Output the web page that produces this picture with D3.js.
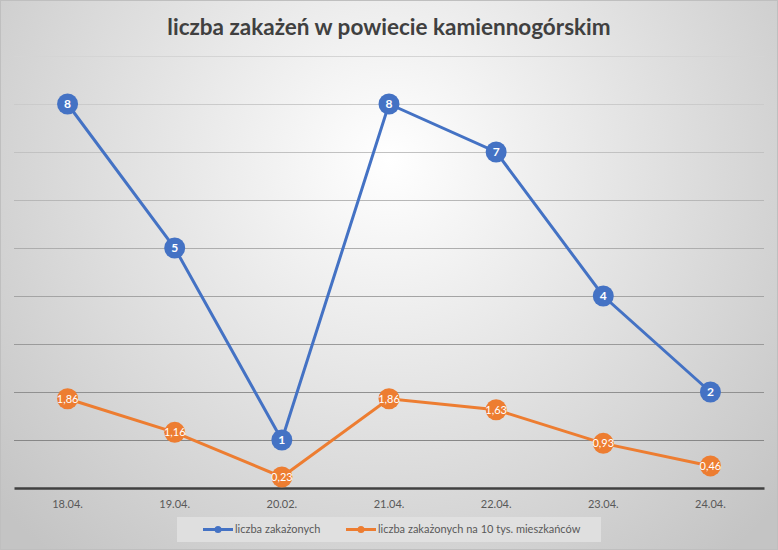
<!DOCTYPE html>
<html>
<head>
<meta charset="utf-8">
<script src="https://cdn.jsdelivr.net/npm/d3@7"></script>
<style>
  body { margin: 0; background: #fff; }
  svg { display: block; }
</style>
</head>
<body>
<div id="chart"></div>
<script>
var categories = ['18.04.', '19.04.', '20.02.', '21.04.', '22.04.', '23.04.', '24.04.'];
var infected = [8, 5, 1, 8, 7, 4, 2];
var per10k = [1.86, 1.16, 0.23, 1.86, 1.63, 0.93, 0.46];
var seriesNames = ['liczba zakażonych', 'liczba zakażonych na 10 tys. mieszkańców'];
var seriesColors = ['#4472C4', '#ED7D31'];
var yTicks = [0, 1, 2, 3, 4, 5, 6, 7, 8, 9];

var width = 778, height = 550;
var font = 'Lato, "Open Sans", sans-serif';

var svg = d3.select('#chart').append('svg')
    .attr('width', width)
    .attr('height', height);

var defs = svg.append('defs');
var bg = defs.append('radialGradient')
    .attr('id', 'bg')
    .attr('gradientUnits', 'userSpaceOnUse')
    .attr('cx', 389).attr('cy', 160).attr('r', 520);
bg.append('stop').attr('offset', '0%').attr('stop-color', '#ffffff');
bg.append('stop').attr('offset', '100%').attr('stop-color', '#c4c4c4');

// gridlines look lighter near the top
var gridGrad = defs.append('linearGradient')
    .attr('id', 'gridGrad')
    .attr('gradientUnits', 'userSpaceOnUse')
    .attr('x1', 0).attr('y1', 50).attr('x2', 0).attr('y2', 450);
gridGrad.append('stop').attr('offset', '0%').attr('stop-color', '#d6d6d6');
gridGrad.append('stop').attr('offset', '100%').attr('stop-color', '#858585');

svg.append('rect')
    .attr('x', 0.5).attr('y', 0.5)
    .attr('width', width - 1).attr('height', height - 1)
    .attr('fill', 'url(#bg)')
    .attr('stroke', '#bfbfbf');

var margin = {top: 56, right: 14, bottom: 62, left: 14};

var x = d3.scaleBand()
    .domain(categories)
    .range([margin.left, width - margin.right]);

var y = d3.scaleLinear()
    .domain([0, 9])
    .range([height - margin.bottom, margin.top]);

// title
svg.append('text')
    .attr('x', width / 2)
    .attr('y', 35)
    .attr('text-anchor', 'middle')
    .style('font-family', font)
    .style('font-weight', 'bold')
    .style('font-size', '22.5px')
    .style('fill', '#404040')
    .text('liczba zakażeń w powiecie kamiennogórskim');

// gridlines
svg.append('g')
    .selectAll('line')
    .data(yTicks.slice(1))
    .enter()
    .append('line')
    .attr('x1', margin.left)
    .attr('x2', width - margin.right)
    .attr('y1', function (d) { return Math.round(y(d)) + 0.5; })
    .attr('y2', function (d) { return Math.round(y(d)) + 0.5; })
    .attr('stroke', 'url(#gridGrad)')
    .attr('stroke-width', 1);

// x axis
var xAxis = svg.append('g')
    .attr('transform', 'translate(0,' + y(0) + ')')
    .call(d3.axisBottom(x).tickSize(0).tickPadding(12));
xAxis.select('.domain')
    .attr('stroke', '#404040')
    .attr('stroke-width', 2.5);
xAxis.selectAll('text')
    .style('font-family', font)
    .style('font-size', '11px')
    .style('fill', '#595959');

var series = [infected, per10k];

var line = d3.line()
    .x(function (d, i) { return x(categories[i]) + x.bandwidth() / 2; })
    .y(function (d) { return y(d); });

function fmt(v) {
    return String(v).replace('.', ',');
}

series.forEach(function (values, s) {
    var g = svg.append('g');
    g.append('path')
        .datum(values)
        .attr('d', line)
        .attr('fill', 'none')
        .attr('stroke', seriesColors[s])
        .attr('stroke-width', 3);

    var pts = g.selectAll('.pt')
        .data(values)
        .enter()
        .append('g')
        .attr('class', 'pt')
        .attr('transform', function (d, i) {
            return 'translate(' + (x(categories[i]) + x.bandwidth() / 2) + ',' + y(d) + ')';
        });

    pts.append('circle')
        .attr('r', 10.5)
        .attr('fill', seriesColors[s]);

    pts.append('text')
        .attr('text-anchor', 'middle')
        .attr('dy', '0.36em')
        .style('font-family', font)
        .style('font-weight', s === 0 ? 'bold' : 'normal')
        .style('font-size', s === 0 ? '12px' : '11px')
        .style('fill', '#ffffff')
        .text(function (d) { return fmt(d); });
});

// legend
var legend = svg.append('g');
legend.append('rect')
    .attr('x', 177).attr('y', 517)
    .attr('width', 424).attr('height', 25)
    .attr('fill', '#e2e2e2')
    .attr('opacity', 0.85);

var legendX = [203, 346];
seriesNames.forEach(function (name, s) {
    var lg = legend.append('g')
        .attr('transform', 'translate(' + legendX[s] + ',529.5)');
    lg.append('line')
        .attr('x1', 0).attr('x2', 30)
        .attr('stroke', seriesColors[s])
        .attr('stroke-width', 3);
    lg.append('circle')
        .attr('cx', 15).attr('r', 3.5)
        .attr('fill', seriesColors[s]);
    lg.append('text')
        .attr('x', 32)
        .attr('dy', '0.35em')
        .style('font-family', font)
        .style('font-size', '11px')
        .style('fill', '#595959')
        .text(name);
});
</script>
</body>
</html>
